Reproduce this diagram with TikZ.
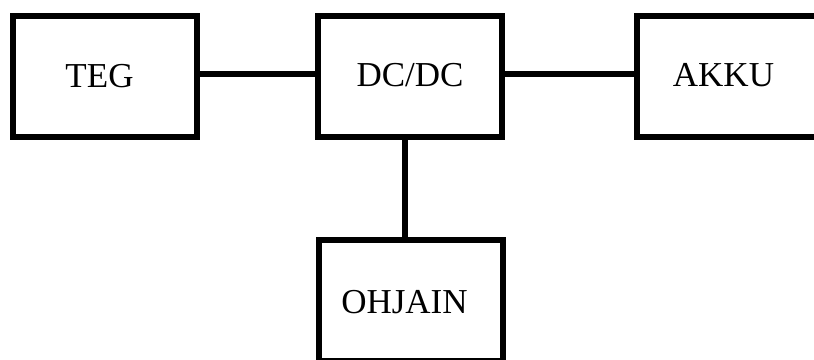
\documentclass[tikz,border=0pt]{standalone}
\usepackage{fontspec}
\setmainfont{Liberation Serif}
\begin{document}
\begin{tikzpicture}[x=1pt,y=-1pt,
  block/.style={draw=black,line width=6pt,minimum width=184pt,minimum height=121pt,inner sep=0pt,outer sep=0pt},
  caption/.style={anchor=base,inner sep=0pt,font=\fontsize{35}{42}\selectfont},
  wire/.style={draw=black,line width=6pt}]
\useasboundingbox (0,0) rectangle (814,359);
% blocks
\node[block] (teg) at (105,76.5) {};
\node[block] (dcdc) at (410.25,76) {};
\node[block] (akku) at (728.5,76.5) {};
\node[block] (ohjain) at (410.5,300.5) {};
% block titles
\node[caption] (tegt) at (99.5,87) {TEG};
\node[caption] (dcdct) at (410,86) {DC/DC};
\node[caption] (akkut) at (723.5,86) {AKKU};
\node[caption] (ohjaint) at (404.5,313) {OHJAIN};
% connections
\draw[wire] ([yshift=2.5pt]teg.east) -- ([yshift=2pt]dcdc.west);
\draw[wire] ([yshift=2pt]dcdc.east) -- ([yshift=2.5pt]akku.west);
\draw[wire] ([xshift=-5.25pt]dcdc.south) -- ([xshift=-5.5pt]ohjain.north);
\end{tikzpicture}
\end{document}
